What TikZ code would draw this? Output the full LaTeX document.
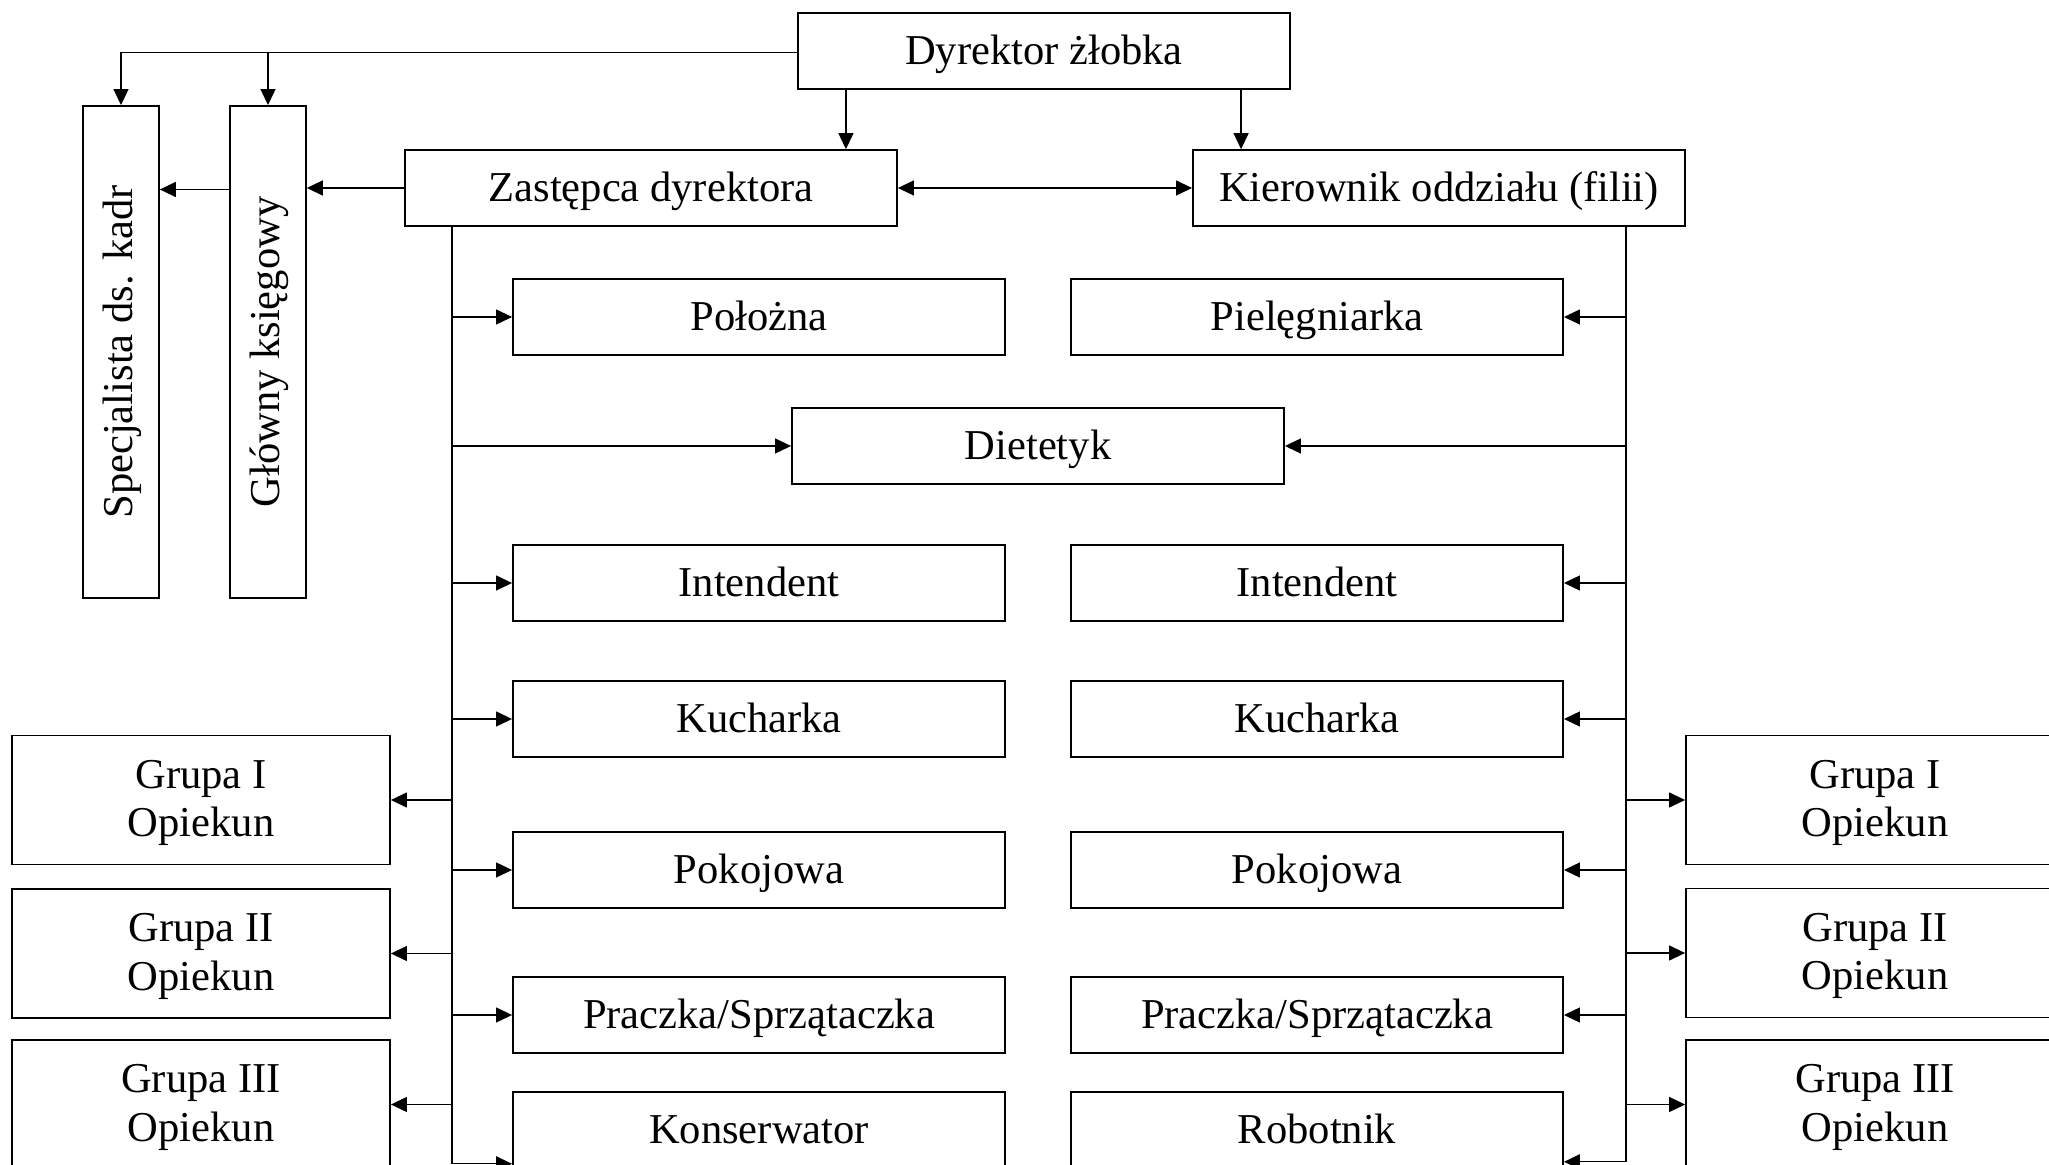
\documentclass[tikz,border=0pt]{standalone}
\usepackage{fontspec}
\setmainfont{Liberation Serif}
\usetikzlibrary{arrows.meta}
\newcommand{\vstrut}{\rule[-0.086cm]{0pt}{0.406cm}}
\tikzset{
  box/.style={draw=black, line width=0.45pt, rectangle, inner sep=0pt,
    minimum width=4.92cm, minimum height=0.76cm,
    font=\fontsize{12.1}{13.7}\selectfont, align=center,
    text height=0.335cm, text depth=0.071cm},
  vbox/.style={draw=black, line width=0.45pt, rectangle, inner sep=0pt,
    minimum width=0.76cm, minimum height=4.92cm,
    font=\fontsize{12.1}{13.7}\selectfont},
  gbox/.style={draw=black, line width=0.45pt, rectangle, inner sep=0pt,
    minimum width=3.78cm, minimum height=1.29cm,
    font=\fontsize{12.1}{13.7}\selectfont, align=center,
    text height=0.83cm, text depth=0.10cm},
  conn/.style={draw=black, line width=0.35pt},
  arr/.style={conn, -{Triangle[length=0.16cm, width=0.15cm]}},
  arrb/.style={conn, {Triangle[length=0.16cm, width=0.15cm]}-{Triangle[length=0.16cm, width=0.15cm]}}
}
\begin{document}
\begin{tikzpicture}[x=0.01cm, y=-0.01cm]
\useasboundingbox (0,0) rectangle (2049,1165);
\clip (0,0) rectangle (2049,1165);
% top
\node[box] (dyr) at (1044,51) {Dyrektor żłobka};
\node[box] (zas) at (651,188) {Zastępca dyrektora};
\node[box] (kier) at (1439,188) {Kierownik oddziału (filii)};
\node[vbox] (spec) at (121,352) {\rotatebox{90}{\vstrut Specjalista ds. kadr}};
\node[vbox] (glow) at (268,352) {\rotatebox{90}{\vstrut Główny księgowy}};
% middle columns
\node[box] (poloz) at (759,317) {Położna};
\node[box] (piel) at (1317,317) {Pielęgniarka};
\node[box] (diet) at (1038,446) {Dietetyk};
\node[box] (int1) at (759,583) {Intendent};
\node[box] (int2) at (1317,583) {Intendent};
\node[box] (kuch1) at (759,719) {Kucharka};
\node[box] (kuch2) at (1317,719) {Kucharka};
\node[box] (pok1) at (759,870) {Pokojowa};
\node[box] (pok2) at (1317,870) {Pokojowa};
\node[box] (pr1) at (759,1015) {Praczka/Sprzątaczka};
\node[box] (pr2) at (1317,1015) {Praczka/Sprzątaczka};
\node[box] (kons) at (759,1130) {Konserwator};
\node[box] (rob) at (1317,1130) {Robotnik};
% groups
\node[gbox] (g1L) at (201,800) {Grupa I\\Opiekun};
\node[gbox] (g2L) at (201,953.5) {Grupa II\\Opiekun};
\node[gbox] (g3L) at (201,1104.5) {Grupa III\\Opiekun};
\node[gbox] (g1R) at (1875,800) {Grupa I\\Opiekun};
\node[gbox] (g2R) at (1875,953) {Grupa II\\Opiekun};
\node[gbox] (g3R) at (1875,1104.5) {Grupa III\\Opiekun};
% connectors from director
\coordinate (ya) at ([shift={(0,1.5)}]dyr.west);
\draw[arr] (ya) -| (spec.north);
\draw[arr] (ya -| glow.north) -- (glow.north);
\coordinate (a1) at ([shift={(-52,0)}]zas.north east);
\coordinate (a2) at ([shift={(49,0)}]kier.north west);
\draw[arr] (dyr.south -| a1) -- (a1);
\draw[arr] (dyr.south -| a2) -- (a2);
\draw[arr] (zas.west) -- (zas.west -| glow.east);
\coordinate (yb) at ([shift={(0,1.5)}]zas.west);
\draw[arr] (yb -| glow.west) -- (yb -| spec.east);
\draw[arrb] (zas.east) -- (kier.west);
% left trunk
\coordinate (tL) at ([shift={(48,0)}]zas.south west);
\coordinate (kb) at ([shift={(0,-5)}]kons.south west);
\draw[conn] (tL) -- (tL |- kb);
\draw[arr] (tL |- kb) -- (kb);
\foreach \n in {poloz,diet,int1,kuch1,pok1,pr1}
  \draw[arr] (tL |- \n.west) -- (\n.west);
\foreach \n in {g1L,g2L,g3L}
  \draw[arr] (tL |- \n.east) -- (\n.east);
% right trunk
\coordinate (tR) at ([shift={(-60,0)}]kier.south east);
\coordinate (rb) at ([shift={(0,-7)}]rob.south east);
\draw[conn] (tR) -- (tR |- rb);
\draw[arr] (tR |- rb) -- (rb);
\foreach \n in {piel,diet,int2,kuch2,pok2,pr2}
  \draw[arr] (tR |- \n.east) -- (\n.east);
\foreach \n in {g1R,g2R,g3R}
  \draw[arr] (tR |- \n.west) -- (\n.west);
\end{tikzpicture}
\end{document}
